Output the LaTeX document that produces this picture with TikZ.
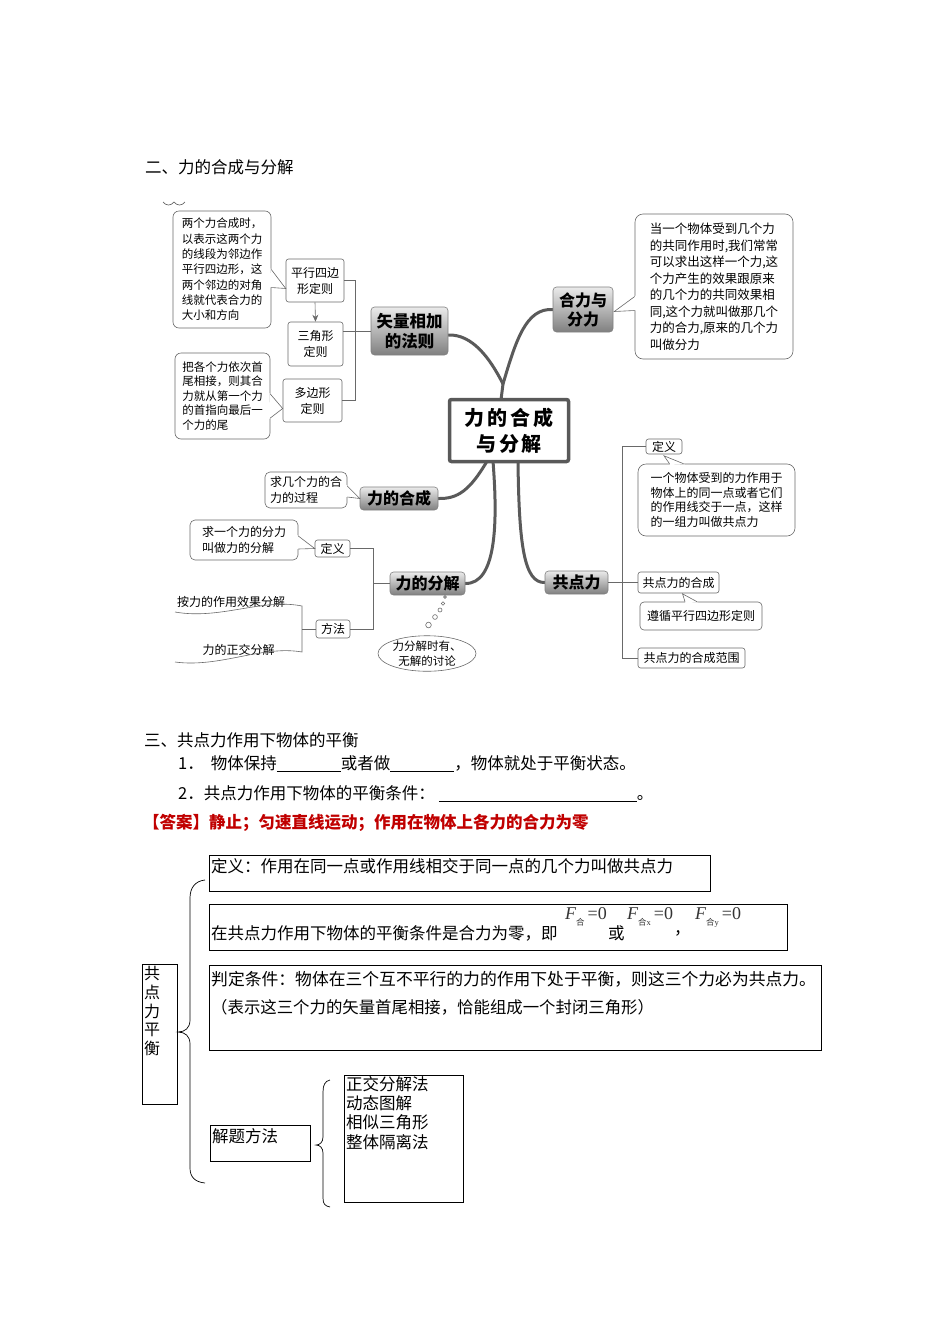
\documentclass[tikz,border=0pt]{standalone}
\usepackage{fontspec}
\setmainfont{Noto Sans CJK SC}
\newfontfamily\serf{Liberation Serif}
\newfontfamily\cenfont[LetterSpace=14]{Noto Sans CJK SC}
\usetikzlibrary{calc,shapes.geometric,arrows.meta,backgrounds}
\newcommand\myfs[2]{\fontsize{#1}{#2}\selectfont}
\newcommand\Fh[1]{{\serf\itshape F}\raisebox{-6pt}{\myfs{8.5}{8.5}合{\serf #1}}{\serf\,=0}}
\newcommand\callptr[3]{%
  \fill[white] ($(#1)!-1.5pt!(#2)$) -- (#2) -- ($(#3)!-1.5pt!(#2)$) -- cycle;
  \draw[ptr] (#1) -- (#2) -- (#3);}
\definecolor{ansred}{RGB}{192,0,0}
\definecolor{brc}{RGB}{90,90,90}
\definecolor{edg}{RGB}{105,105,105}
\begin{document}
\begin{tikzpicture}[x=1pt,y=-1pt,
  txt/.style={anchor=west, inner sep=0pt, font=\myfs{16.5}{20}},
  gbox/.style={draw=black!50, line width=0.6pt, rounded corners=3.5pt, top color=black!8, bottom color=black!50, font=\bfseries\myfs{16}{19}, align=center, inner sep=1pt, text=black},
  wbox/.style={draw=edg, line width=0.6pt, rounded corners=2.5pt, fill=white, font=\myfs{12}{16}, align=center, inner sep=1pt},
  callout/.style={draw=edg, line width=0.6pt, rounded corners=6pt, fill=white, font=\myfs{11.5}{15.3}, align=left, inner sep=1pt},
  con/.style={draw=edg, line width=0.6pt},
  br/.style={draw=brc, line width=3pt, line cap=round},
  ptr/.style={draw=edg, line width=0.6pt},
  bx/.style={draw=black, line width=0.8pt},
]
\useasboundingbox (0,0) rectangle (950,1344);

% ---------- section 2 title
\node[txt] (t2) at (145,167) {二、力的合成与分解};
\draw[black!60, line width=0.7pt] (163,202) .. controls (166,206) and (171,206) .. (174,202) .. controls (177,206) and (182,206) .. (185,202);

% ---------- left upper group
\node[callout, minimum width=98, minimum height=117] (c1) at (222,269.5) {两个力合成时，\\以表示这两个力\\的线段为邻边作\\平行四边形，这\\两个邻边的对角\\线就代表合力的\\大小和方向};
\node[wbox, minimum width=58, minimum height=43] (p1) at (315,280.5) {平行四边\\形定则};
\node[wbox, minimum width=55, minimum height=44] (p2) at (315.5,344) {三角形\\定则};
\node[wbox, minimum width=59, minimum height=43] (p3) at (312.5,400.5) {多边形\\定则};
\node[callout, font=\myfs{11.5}{14.5}, minimum width=95, minimum height=86] (c2) at (222.5,396) {把各个力依次首\\尾相接，则其合\\力就从第一个力\\的首指向最后一\\个力的尾};
\node[gbox, minimum width=77, minimum height=48, font=\bfseries\myfs{16.5}{20}] (g1) at (409.5,331) {矢量相加\\的法则};

% ---------- centre
\node[draw=black!65, line width=3.5pt, rounded corners=2pt, fill=white, minimum width=119, minimum height=62, align=center, font=\cenfont\bfseries\myfs{20}{26}] (cen) at (509,430.5) {力的合成\\与分解};

% ---------- right upper
\node[gbox, minimum width=60, minimum height=45] (g2) at (583,309.5) {合力与\\分力};
\node[callout, font=\myfs{12.5}{16.5}, minimum width=158, minimum height=145, rounded corners=8pt] (c3) at (714,286.5) {当一个物体受到几个力\\的共同作用时,我们常常\\可以求出这样一个力,这\\个力产生的效果跟原来\\的几个力的共同效果相\\同,这个力就叫做那几个\\力的合力,原来的几个力\\叫做分力};

% ---------- right lower
\node[wbox, minimum width=36, minimum height=15] (d1) at (664,446.5) {定义};
\node[callout, font=\myfs{12}{14.5}, minimum width=157, minimum height=72, rounded corners=8pt] (c4) at (716.5,500) {一个物体受到的力作用于\\物体上的同一点或者它们\\的作用线交于一点，这样\\的一组力叫做共点力};
\node[gbox, minimum width=63, minimum height=23] (gk) at (576.5,582.5) {共点力};
\node[wbox, minimum width=81, minimum height=21] (hc) at (678.5,582.5) {共点力的合成};
\node[callout, font=\myfs{12}{14.5}, minimum width=122, minimum height=28, rounded corners=4pt] (c5) at (701,616) {遵循平行四边形定则};
\node[wbox, minimum width=107, minimum height=20] (fw) at (691.5,658) {共点力的合成范围};

% ---------- left lower
\node[gbox, minimum width=78, minimum height=23] (g3) at (399,498.5) {力的合成};
\node[callout, font=\myfs{12}{16}, minimum width=82, minimum height=36, rounded corners=5pt] (c6) at (306,490) {求几个力的合\\力的过程};
\node[gbox, minimum width=75, minimum height=23] (g4) at (427.5,583.5) {力的分解};
\node[wbox, minimum width=35, minimum height=17] (d2) at (332.5,548.5) {定义};
\node[callout, font=\myfs{12}{16}, minimum width=108, minimum height=40, rounded corners=5pt] (c7) at (244,540) {求一个力的分力\\叫做力的分解};
\node[wbox, minimum width=34, minimum height=18] (ff) at (333,629) {方法};
\node[ellipse, draw=edg, line width=0.6pt, minimum width=98, minimum height=33, inner sep=0pt, align=center, font=\myfs{11.5}{14.5}] (tb) at (427,653.5) {力分解时有、\\无解的讨论};
\node[font=\myfs{12}{14}, inner sep=0pt] (m1) at (231,602) {按力的作用效果分解};
\node[font=\myfs{12}{14}, inner sep=0pt] (m2) at (238.5,650) {力的正交分解};
\draw[con] (175,612) .. controls (220,620) and (262,598) .. (302,606) -- (302,652) .. controls (262,645) and (220,668) .. (175,662);
\coordinate (dsr) at (302,629);
\draw[con] (dsr) -- (ff.west);
\foreach \x/\y/\r in {445/597/1.4, 443/603.5/1.7, 440/610/2.0, 435/617/2.4, 428.5/625/2.8}
  \draw[con] (\x,\y) circle[radius=\r pt];

% ---------- branches (background)
\begin{scope}[on background layer]
\coordinate (J1) at (503,384);
\draw[br] ($(cen.north)+(-8,2)$) -- (J1);
\draw[br] (J1) .. controls (490,358) and (472,334) .. ($(g1.east)+(0,4)$);
\draw[br] (J1) .. controls (516,340) and (526,308) .. (g2.west);
\draw[br] ($(cen.south)+(-22,-2)$) .. controls (470,490) and (458,499) .. (g3.east);
\draw[br] ($(cen.south)+(-16,-2)$) .. controls (498,525) and (496,584) .. (g4.east);
\draw[br] ($(cen.south)+(9,-2)$) .. controls (519,545) and (524,583) .. (gk.west);
\end{scope}

% ---------- thin connectors
\coordinate (b1) at (355,0);
\draw[con] (p1.east) -- (p1.east -| b1) -- (p3.east -| b1) -- (p3.east);
\draw[con] (g1.west) -- (g1.west -| p2.east);
\draw[con, -{Stealth[length=7pt,width=6pt]}] (p1.south) -- (p2.north);
\coordinate (b2) at (622,0);
\draw[con] (d1.west) -- (d1.west -| b2) -- (fw.west -| b2) -- (fw.west);
\draw[con] (gk.east) -- (hc.west);
\coordinate (b3) at (373,0);
\draw[con] (d2.east) -- (d2.east -| b3) -- (ff.east -| b3) -- (ff.east);
\draw[con] (g4.west) -- (g4.west -| b3);

% ---------- callout pointers
\coordinate (a1) at ($(c1.east)+(0,0)$); \coordinate (a2) at ($(p1.west)+(0,8)$); \coordinate (a3) at ($(c1.east)+(0,18)$);
\callptr{a1}{a2}{a3}
\coordinate (e1) at ($(c2.east)+(0,-2)$); \coordinate (e2) at ($(p3.west)+(0,8)$); \coordinate (e3) at ($(c2.east)+(0,22)$);
\callptr{e1}{e2}{e3}
\coordinate (f1) at ($(c3.west)+(0,10)$); \coordinate (f2) at ($(g2.east)+(1,2)$); \coordinate (f3) at ($(c3.west)+(0,24)$);
\callptr{f1}{f2}{f3}
\coordinate (h1) at ($(c4.north)+(-47,0)$); \coordinate (h2) at ($(d1.south)+(0,1.5)$); \coordinate (h3) at ($(c4.north)+(-33,0)$);
\callptr{h1}{h2}{h3}
\coordinate (k1) at ($(c5.north)+(-16,0)$); \coordinate (k2) at ($(hc.south)+(4,0.5)$); \coordinate (k3) at ($(c5.north)+(-4,0)$);
\callptr{k1}{k2}{k3}
\coordinate (n1) at ($(c6.east)+(0,-4)$); \coordinate (n2) at (g3.west); \coordinate (n3) at ($(c6.east)+(0,7)$);
\callptr{n1}{n2}{n3}
\coordinate (q1) at ($(c7.east)+(0,-4)$); \coordinate (q2) at (d2.west); \coordinate (q3) at ($(c7.east)+(0,9)$);
\callptr{q1}{q2}{q3}

% ---------- section 3
\node[txt] (t3) at (144,740) {三、共点力作用下物体的平衡};
\node[txt] (l1) at (178,764) {1．\hspace{7pt}物体保持\rule[-2pt]{64pt}{0.6pt}或者做\rule[-2pt]{64pt}{0.6pt}，物体就处于平衡状态。};
\node[txt] (l2) at (178,794) {2．共点力作用下物体的平衡条件：\hspace{4pt}\rule[-2pt]{198pt}{0.6pt}。};
\node[txt, text=ansred, font=\bfseries\myfs{16.5}{20}] (ans) at (143,823) {【答案】静止；匀速直线运动；作用在物体上各力的合力为零};

% ---------- bottom diagram
\node[bx, minimum width=501, minimum height=36, anchor=north west] (bx1) at (209,855) {};
\node[txt] at ($(bx1.north west)+(2,11)$) {定义：作用在同一点或作用线相交于同一点的几个力叫做共点力};
\node[bx, minimum width=578, minimum height=46, anchor=north west] (bx2) at (209,904) {};
\node[txt] at ($(bx2.north west)+(2,29)$) {在共点力作用下物体的平衡条件是合力为零，即};
\node[txt] at (608,933) {或};
\node[txt] at (674,933) {，};
\node[anchor=west, inner sep=0pt, font=\myfs{18}{20}, text=black!80] at (565,917) {\Fh{}};
\node[anchor=west, inner sep=0pt, font=\myfs{18}{20}, text=black!80] at (627,917) {\Fh{x}};
\node[anchor=west, inner sep=0pt, font=\myfs{18}{20}, text=black!80] at (695,917) {\Fh{y}};
\node[bx, minimum width=612, minimum height=85, anchor=north west] (bx3) at (209,965) {};
\node[txt, font=\myfs{16.8}{20}] at ($(bx3.north west)+(2,14)$) {判定条件：物体在三个互不平行的力的作用下处于平衡，则这三个力必为共点力。};
\node[txt, font=\myfs{16.4}{20}] at ($(bx3.north west)+(2,42)$) {（表示这三个力的矢量首尾相接，恰能组成一个封闭三角形）};
\node[bx, minimum width=35, minimum height=140, anchor=north west] (kb) at (142,964) {};
\node[anchor=north west, inner sep=0pt, align=left, font=\myfs{16}{18.8}] at ($(kb.north west)+(2,2)$) {共\\点\\力\\平\\衡};
\node[bx, minimum width=100, minimum height=36, anchor=north west] (jf) at (210,1125) {};
\node[txt] at ($(jf.north west)+(2,11)$) {解题方法};
\node[bx, minimum width=119, minimum height=127, anchor=north west] (lst) at (344,1075) {};
\node[anchor=north west, inner sep=0pt, align=left, font=\myfs{16.5}{19.3}] at ($(lst.north west)+(2,1)$) {正交分解法\\动态图解\\相似三角形\\整体隔离法};
\draw[black, line width=0.7pt] (205,880) .. controls (195,881) and (190,888) .. (190,898) -- (190,1020) .. controls (190,1028) and (185,1032) .. (178,1032) .. controls (185,1032) and (190,1036) .. (190,1044) -- (190,1168) .. controls (190,1177) and (195,1182) .. (205,1183);
\draw[black, line width=0.7pt] (330,1080) .. controls (325,1081) and (323,1085) .. (323,1092) -- (323,1137) .. controls (323,1142) and (320,1145) .. (316,1145) .. controls (320,1145) and (323,1148) .. (323,1153) -- (323,1198) .. controls (323,1204) and (325,1206) .. (330,1207);
\end{tikzpicture}
\end{document}
